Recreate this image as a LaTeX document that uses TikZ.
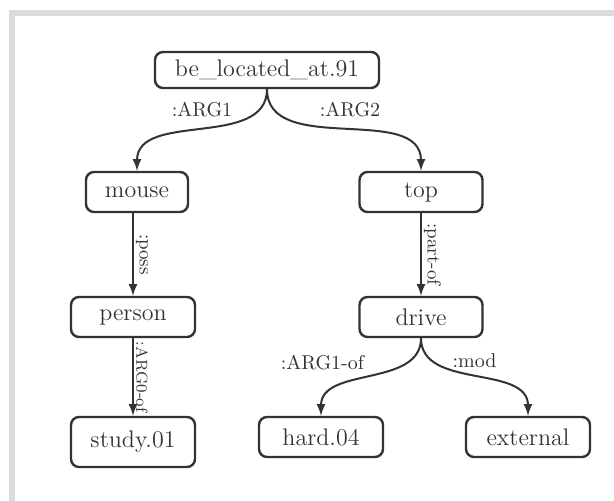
\documentclass[tikz,border=0pt]{standalone}
\usetikzlibrary{arrows.meta,arrows}
\tikzset{
amr/.style={
  draw=black!80,
  line width=1.2pt,
  rounded corners=4pt,
  text=black!80,
  font=\fontsize{12}{14}\selectfont,
  inner sep=0pt,
  minimum height=20pt
  },
amrw/.style={
  amr,
  minimum width=#1
  },
rel/.style={
  text=black!80,
  font=\fontsize{10}{12}\selectfont,
  inner sep=1pt
  },
relv/.style={
  rel,
  font=\fontsize{9.5}{11}\selectfont,
  rotate=-90,
  anchor=south
  }
}

\begin{document}
\begin{tikzpicture}[>=latex,x=0.5pt,y=-0.5pt]
\useasboundingbox (0,0) rectangle (614,501);
% grey frame
\fill[black!14] (9,10) rectangle (614,16);
\fill[black!14] (9,10) rectangle (15,501);

\node[amrw=112pt,minimum height=18pt] at (267,70)
  (root) {be\_located\_at.91};
\node[amrw=51pt] at (137,192)
  (mouse) {mouse};
\node[amrw=61.5pt] at (421,192)
  (top) {top};
\node[amrw=62pt] at (133,317)
  (person) {person};
\node[amrw=61.5pt] at (421,317)
  (drive) {drive};
\node[amrw=62pt,minimum height=25pt] at (133,442)
  (study) {study.01};
\node[amrw=62pt] at (321,437)
  (hard) {hard.04};
\node[amrw=62pt] at (528,437)
  (external) {external};

\begin{scope}[line width=1pt,draw=black!80]
\draw[->]
  (root.south) to[out=-90,in=90] node[rel,above=5pt] {:ARG1} (mouse.north);
\draw[->]
  (root.south) to[out=-90,in=90] node[rel,above=5pt,xshift=3pt] {:ARG2} (top.north);
\draw[->]
  (mouse.south -| person.north) -- node[relv] {:poss} (person.north);
\draw[->]
  (top.south) -- node[relv] {:part-of} (drive.north);
\draw[->]
  (person.south) -- node[relv,font=\fontsize{8}{9}\selectfont] {:ARG0-of} (study.north);
\draw[->]
  (drive.south) to[out=-90,in=90] node[rel,above left=2pt] {:ARG1-of} (hard.north);
\draw[->]
  (drive.south) to[out=-90,in=90] node[rel,above=3pt] {:mod} (external.north);
\end{scope}
\end{tikzpicture}
\end{document}
